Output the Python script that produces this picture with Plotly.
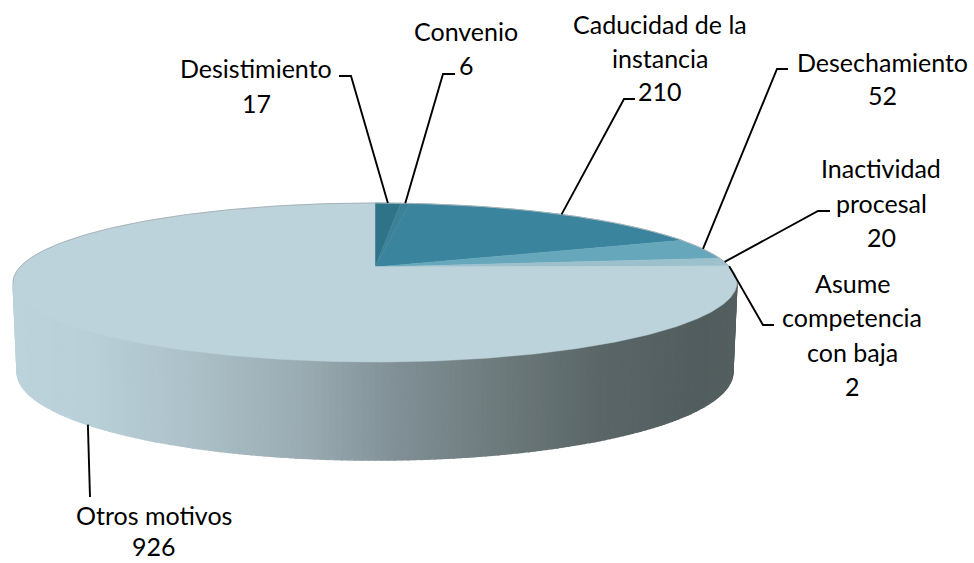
import math
import plotly.graph_objects as go

# Data
categories = ["Desistimiento", "Convenio", "Caducidad de la instancia", "Desechamiento",
              "Inactividad procesal", "Asume competencia con baja", "Otros motivos"]
values = [17, 6, 210, 52, 20, 2, 926]

# Style
colors = ["#2f7388", "#3d8197", "#3a849e", "#67a7bb", "#9cc0cc", "#a8c8d3", "#bcd3db"]
label_lines = [["Desistimiento"], ["Convenio"], ["Caducidad de la", "instancia"], ["Desechamiento"],
               ["Inactividad", "procesal"], ["Asume", "competencia", "con baja"], ["Otros motivos"]]
label_x = [256, 466, 660, 882, 881, 852, 154]
label_y = [[68, 103], [31, 65], [24, 58, 91], [62, 95], [168, 203, 237], [283, 317, 352, 386], [515, 546]]
# leader elbows: (end x, elbow x, y)
leader_ends = [(339, 351, 76), (455, 443, 74), (635, 624, 99), (788, 777, 69), (830, 818, 211), (774, 763, 325), (90, 90, 497)]
wall_stops = [(13, "#bcd3db"), (90, "#b9d0d8"), (200, "#abbfc7"), (300, "#9bacb3"), (400, "#7f8f95"),
              (500, "#6d7a7b"), (600, "#5a6667"), (700, "#525d5e"), (737, "#555f60")]

# Projection of the disc: a perspective view of a unit circle
K = 0.195
CX = 375
TOP = dict(cy=267, a=355, b=76.5)
BOT = dict(cy=355, a=351, b=84.6)


def project(t, face):
    x, y = math.sin(t), math.cos(t)
    w = 1 + K * y
    return CX + face["a"] * x / w, face["cy"] - face["b"] * y / w


def hex2rgb(h):
    return [int(h[i:i + 2], 16) for i in (1, 3, 5)]


def wall_color(x):
    for (x0, c0), (x1, c1) in zip(wall_stops, wall_stops[1:]):
        if x <= x1:
            f = max(0, (x - x0) / (x1 - x0))
            a, b = hex2rgb(c0), hex2rgb(c1)
            return "rgb(%d,%d,%d)" % tuple(round(p + (q - p) * f) for p, q in zip(a, b))
    return wall_stops[-1][1]


total = sum(values)
edges = [0.0]
for v in values:
    edges.append(edges[-1] + v / total * 2 * math.pi)

fig = go.Figure()

# Side wall (only the front part is visible)
t_start = math.acos(-K)
t_end = 2 * math.pi - t_start
N = 180
for i in range(N):
    t0 = t_start + (t_end - t_start) * i / N
    t1 = t_start + (t_end - t_start) * (i + 1) / N
    xa, ya = project(t0, TOP)
    xb, yb = project(t1, TOP)
    xc, yc = project(t1, BOT)
    xd, yd = project(t0, BOT)
    col = wall_color((xa + xb + xc + xd) / 4)
    fig.add_trace(go.Scatter(x=[xa, xb, xc, xd, xa], y=[ya, yb, yc, yd, ya], mode="lines",
                             fill="toself", fillcolor=col, line=dict(color=col, width=1.5),
                             hoverinfo="skip", showlegend=False))

# Top face slices
for i in range(len(values)):
    t0, t1 = edges[i], edges[i + 1]
    n = max(2, int((t1 - t0) / 0.01))
    pts = [project(t0 + (t1 - t0) * j / n, TOP) for j in range(n + 1)]
    xs = [CX] + [p[0] for p in pts] + [CX]
    ys = [TOP["cy"]] + [p[1] for p in pts] + [TOP["cy"]]
    fig.add_trace(go.Scatter(x=xs, y=ys, mode="lines", fill="toself", fillcolor=colors[i],
                             line=dict(color=colors[i], width=0.5), name=categories[i],
                             hoverinfo="name", showlegend=False))

# Soft rim along the back of the disc
rim = [project(-t_start + 2 * t_start * j / 300, TOP) for j in range(301)]
fig.add_trace(go.Scatter(x=[p[0] for p in rim], y=[p[1] for p in rim], mode="lines",
                         line=dict(color="#a7b3b8", width=1), hoverinfo="skip", showlegend=False))

# Leader lines and labels
for i in range(len(values)):
    mid = (edges[i] + edges[i + 1]) / 2
    face = BOT if math.cos(mid) < -K else TOP
    rx, ry = project(mid, face)
    ex, elbow, ey = leader_ends[i]
    fig.add_trace(go.Scatter(x=[rx, elbow, ex], y=[ry, ey, ey], mode="lines",
                             line=dict(color="#000000", width=1.9), hoverinfo="skip", showlegend=False))
    lines = label_lines[i] + [str(values[i])]
    for txt, y in zip(lines, label_y[i]):
        fig.add_annotation(x=label_x[i], y=y, text=txt, showarrow=False, xanchor="center", yanchor="middle",
                           font=dict(family="Lato, Carlito, sans-serif", size=25, color="#000000"))

fig.update_layout(width=974, height=563, margin=dict(l=0, r=0, t=0, b=0),
                  paper_bgcolor="#ffffff", plot_bgcolor="#ffffff", showlegend=False,
                  xaxis=dict(range=[0, 974], visible=False, fixedrange=True),
                  yaxis=dict(range=[563, 0], visible=False, fixedrange=True))
fig.write_html("out.html", config={"displayModeBar": False},
               post_script="document.body.style.margin='0';document.body.style.overflow='hidden';")
